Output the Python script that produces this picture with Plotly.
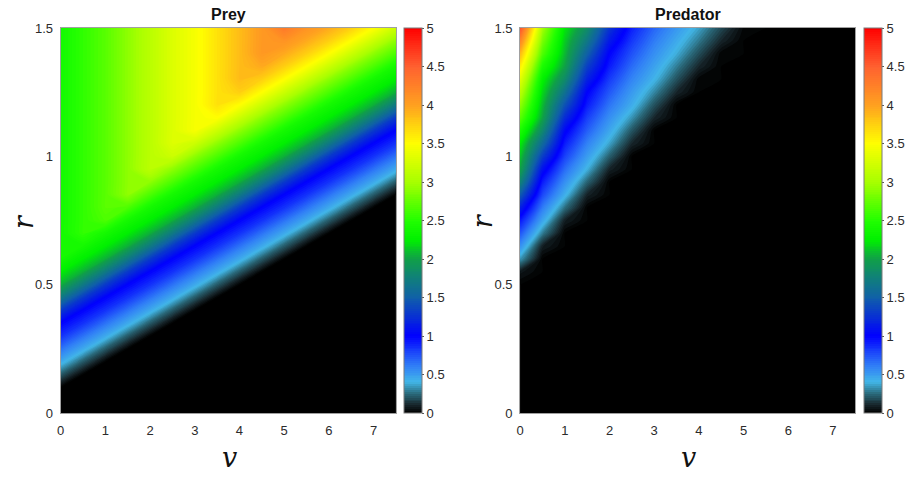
import plotly.graph_objects as go

# ---- data ----
v_vals = [0.0, 0.5, 1.0, 1.5, 2.0, 2.5, 3.0, 3.5, 4.0, 4.5, 5.0, 5.5, 6.0, 6.5, 7.0, 7.5]
r_vals = [0.0, 0.05, 0.1, 0.15, 0.2, 0.25, 0.3, 0.35, 0.4, 0.45, 0.5, 0.55, 0.6, 0.65, 0.7,
          0.75, 0.8, 0.85, 0.9, 0.95, 1.0, 1.05, 1.1, 1.15, 1.2, 1.25, 1.3, 1.35, 1.4, 1.45, 1.5]

x_ticks = [0, 1, 2, 3, 4, 5, 6, 7]
y_ticks = [0, 0.5, 1, 1.5]
y_ticktext = ["0", "0.5", "1", "1.5"]
cb_ticks = [0, 0.5, 1, 1.5, 2, 2.5, 3, 3.5, 4, 4.5, 5]
cb_ticktext = ["0", "0.5", "1", "1.5", "2", "2.5", "3", "3.5", "4", "4.5", "5"]

titles = ["Prey", "Predator"]

# prey density: rows = r (0 -> 1.5), columns = v (0 -> 7.5); trailing entries are 0 (black)
prey_rows = [
    [],
    [],
    [],
    [0.22],
    [0.45, 0.22],
    [0.65, 0.45, 0.22],
    [0.85, 0.65, 0.45, 0.22],
    [1.0, 0.85, 0.65, 0.45, 0.22],
    [1.3, 1.0, 0.85, 0.65, 0.45, 0.22],
    [1.7, 1.3, 1.0, 0.85, 0.65, 0.45, 0.22],
    [2.05, 1.7, 1.3, 1.0, 0.85, 0.65, 0.45, 0.22],
    [2.25, 2.05, 1.7, 1.3, 1.0, 0.85, 0.65, 0.45, 0.22],
    [2.4, 2.25, 2.05, 1.7, 1.3, 1.0, 0.85, 0.65, 0.45, 0.22],
    [2.4, 2.4, 2.25, 2.05, 1.7, 1.3, 1.0, 0.85, 0.65, 0.45, 0.22],
    [2.4, 2.55, 2.4, 2.25, 2.05, 1.7, 1.3, 1.0, 0.85, 0.65, 0.45, 0.22],
    [2.4, 2.55, 2.65, 2.4, 2.25, 2.05, 1.7, 1.3, 1.0, 0.85, 0.65, 0.45, 0.22],
    [2.4, 2.55, 2.7, 2.65, 2.4, 2.25, 2.05, 1.7, 1.3, 1.0, 0.85, 0.65, 0.45, 0.22],
    [2.4, 2.55, 2.7, 2.9, 2.65, 2.4, 2.25, 2.05, 1.7, 1.3, 1.0, 0.85, 0.65, 0.45, 0.22],
    [2.4, 2.55, 2.7, 2.9, 2.9, 2.65, 2.4, 2.25, 2.05, 1.7, 1.3, 1.0, 0.85, 0.65, 0.45, 0.22],
    [2.4, 2.55, 2.7, 2.9, 3.1, 2.9, 2.65, 2.4, 2.25, 2.05, 1.7, 1.3, 1.0, 0.85, 0.65, 0.45],
    [2.4, 2.55, 2.7, 2.9, 3.1, 3.2, 2.9, 2.65, 2.4, 2.25, 2.05, 1.7, 1.3, 1.0, 0.85, 0.65],
    [2.4, 2.55, 2.7, 2.9, 3.1, 3.3, 3.2, 2.9, 2.65, 2.4, 2.25, 2.05, 1.7, 1.3, 1.0, 0.85],
    [2.4, 2.55, 2.7, 2.9, 3.1, 3.3, 3.45, 3.2, 2.9, 2.65, 2.4, 2.25, 2.05, 1.7, 1.3, 1.0],
    [2.4, 2.55, 2.7, 2.9, 3.1, 3.3, 3.45, 3.5, 3.2, 2.9, 2.65, 2.4, 2.25, 2.05, 1.7, 1.3],
    [2.4, 2.55, 2.7, 2.9, 3.1, 3.3, 3.45, 3.65, 3.5, 3.2, 2.9, 2.65, 2.4, 2.25, 2.05, 1.7],
    [2.4, 2.55, 2.7, 2.9, 3.1, 3.3, 3.45, 3.65, 3.75, 3.5, 3.2, 2.9, 2.65, 2.4, 2.25, 2.05],
    [2.4, 2.55, 2.7, 2.9, 3.1, 3.3, 3.45, 3.65, 3.85, 3.75, 3.5, 3.2, 2.9, 2.65, 2.4, 2.25],
    [2.4, 2.55, 2.7, 2.9, 3.1, 3.3, 3.45, 3.65, 3.85, 3.95, 3.75, 3.5, 3.2, 2.9, 2.65, 2.4],
    [2.4, 2.55, 2.7, 2.9, 3.1, 3.3, 3.45, 3.65, 3.85, 4.05, 3.95, 3.75, 3.5, 3.2, 2.9, 2.65],
    [2.4, 2.55, 2.7, 2.9, 3.1, 3.3, 3.45, 3.65, 3.85, 4.05, 4.1, 3.95, 3.75, 3.5, 3.2, 2.9],
    [2.4, 2.55, 2.7, 2.9, 3.1, 3.3, 3.45, 3.65, 3.85, 4.05, 4.3, 4.1, 3.95, 3.75, 3.5, 3.2],
]

# predator density: rows = r, columns = v; trailing entries are 0 (black)
pred_rows = [
    [], [], [], [], [], [], [], [], [], [], [],
    [0.06],
    [0.34],
    [0.55, 0.08],
    [0.74, 0.29],
    [0.93, 0.47, 0.08],
    [1.17, 0.62, 0.26],
    [1.48, 0.78, 0.43, 0.09],
    [1.79, 0.92, 0.55, 0.24],
    [2.02, 1.09, 0.67, 0.39, 0.09],
    [2.13, 1.33, 0.8, 0.5, 0.23],
    [2.25, 1.58, 0.92, 0.6, 0.36, 0.1],
    [2.46, 1.82, 1.04, 0.71, 0.46, 0.21],
    [2.71, 2.01, 1.23, 0.81, 0.55, 0.33, 0.1],
    [2.92, 2.09, 1.43, 0.92, 0.64, 0.44, 0.2],
    [3.12, 2.18, 1.64, 1.01, 0.73, 0.51, 0.31, 0.1],
    [3.35, 2.28, 1.84, 1.17, 0.82, 0.59, 0.41, 0.2, 0.01],
    [3.6, 2.46, 2.0, 1.33, 0.92, 0.67, 0.48, 0.29, 0.1],
    [3.88, 2.67, 2.08, 1.51, 1.0, 0.75, 0.55, 0.38, 0.19, 0.01],
    [4.22, 2.83, 2.14, 1.69, 1.13, 0.83, 0.62, 0.45, 0.28, 0.1],
    [4.6, 2.99, 2.22, 1.85, 1.27, 0.91, 0.69, 0.52, 0.36, 0.18, 0.02],
]


def pad(rows, n):
    return [list(r) + [0.0] * (n - len(r)) for r in rows]


prey_z = pad(prey_rows, len(v_vals))
pred_z = pad(pred_rows, len(v_vals))

colorscale = [
    [0.00, "#000000"],
    [0.02, "#17252a"],
    [0.05, "#2a6878"],
    [0.08, "#42b6e8"],
    [0.12, "#3282f6"],
    [0.20, "#0000ff"],
    [0.30, "#1060a8"],
    [0.35, "#10807a"],
    [0.40, "#10a048"],
    [0.45, "#00f000"],
    [0.50, "#22ff00"],
    [0.60, "#a8ff00"],
    [0.70, "#ffff00"],
    [0.80, "#ffa020"],
    [0.90, "#ff6030"],
    [1.00, "#ff0000"],
]

W, H = 906, 478
M_T, M_B = 20, 40
PH = H - M_T - M_B


def fx(px):
    return px / W


def fy(py):
    return (H - M_B - py) / PH


panels = [
    dict(x0=57, x1=394, cb=402),
    dict(x0=519, x1=856, cb=865),
]
top_px, bot_px = 28, 413

NARROW = "Liberation Sans Narrow, Liberation Sans, Arial"
tick_font = dict(family=NARROW, size=13, color="#2b2b2b")

fig = go.Figure()
for k, (z, p) in enumerate(zip([prey_z, pred_z], panels)):
    xa = "x" if k == 0 else "x2"
    ya = "y" if k == 0 else "y2"
    fig.add_trace(go.Contour(
        x=v_vals, y=r_vals, z=z, zmin=0, zmax=5, zauto=False,
        autocontour=False,
        contours=dict(start=0, end=5, size=0.025, coloring="fill", showlines=False),
        line=dict(width=0, smoothing=0.6),
        colorscale=colorscale, xaxis=xa, yaxis=ya,
        colorbar=dict(
            x=fx(p["cb"]), xanchor="left", xref="paper",
            y=fy(bot_px), yanchor="bottom", len=(bot_px - top_px) / PH, lenmode="fraction",
            thickness=18, thicknessmode="pixels",
            outlinewidth=1, outlinecolor="#7a7a7a",
            tickvals=cb_ticks, ticktext=cb_ticktext,
            ticks="outside", ticklen=2, tickcolor="#555555",
            tickfont=tick_font, ypad=0, xpad=0,
        ),
        hoverinfo="skip",
    ))

axis_common = dict(
    showgrid=False, zeroline=False, showline=True, linecolor="#a0a0a0", linewidth=1,
    mirror=True, ticks="", tickfont=tick_font,
)
layout = dict(
    width=W, height=H, margin=dict(l=0, r=0, t=M_T, b=M_B),
    paper_bgcolor="white", plot_bgcolor="black", showlegend=False,
)
for k, p in enumerate(panels):
    xs = "xaxis" if k == 0 else "xaxis2"
    ys = "yaxis" if k == 0 else "yaxis2"
    layout[xs] = dict(
        domain=[fx(p["x0"]), fx(p["x1"])], range=[0, 7.5],
        tickvals=x_ticks, ticklabelstandoff=5,
        anchor="y" if k == 0 else "y2", **axis_common,
    )
    layout[ys] = dict(
        domain=[fy(bot_px), fy(top_px)], range=[0, 1.5],
        tickvals=y_ticks, ticktext=y_ticktext, ticklabelstandoff=4,
        anchor="x" if k == 0 else "x2", **axis_common,
    )
fig.update_layout(**layout)

annotations = []
for k, p in enumerate(panels):
    cx = (p["x0"] + p["x1"]) / 2
    annotations.append(dict(
        x=fx(cx), y=fy(14), xref="paper", yref="paper", showarrow=False,
        text="<b>" + titles[k] + "</b>", xanchor="center", yanchor="middle",
        font=dict(family=NARROW, size=16, color="#111111"),
    ))
    annotations.append(dict(
        x=fx(cx + 1), y=fy(457), xref="paper", yref="paper", showarrow=False,
        text="<i>v</i>", xanchor="center", yanchor="middle",
        font=dict(family="DejaVu Serif", size=27, color="#111111"),
    ))
    annotations.append(dict(
        x=fx(p["x0"] - 38), y=fy(221), xref="paper", yref="paper", showarrow=False,
        text="<i>r</i>", xanchor="center", yanchor="middle", textangle=-90,
        font=dict(family="DejaVu Serif", size=27, color="#111111"),
    ))
fig.update_layout(annotations=annotations)

fig.write_html("out.html")
